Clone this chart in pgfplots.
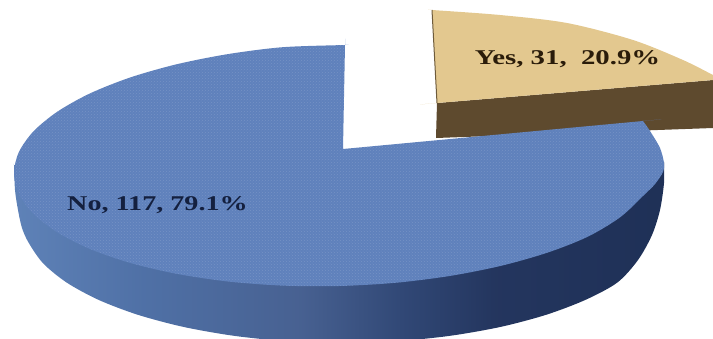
\documentclass[border=0pt]{standalone}
\usepackage{pgfplots}
\usepackage{graphicx}
\usepackage{fontspec}
\usetikzlibrary{patterns}
\setmainfont{Liberation Serif}
\pgfplotsset{compat=1.18}
\definecolor{blueTop}{HTML}{5F81BC}
\definecolor{tanTop}{HTML}{E3C88F}
\definecolor{tanSide}{HTML}{5E4A2E}
\definecolor{tanEdge}{HTML}{6E5B3B}
\definecolor{labelNo}{HTML}{14203F}
\definecolor{labelYes}{HTML}{2A1C0A}
\pgfdeclarehorizontalshading{bluerim}{100bp}{
  rgb(0bp)=(0.37,0.51,0.72);
  rgb(25bp)=(0.37,0.51,0.72);
  rgb(35bp)=(0.31,0.44,0.65);
  rgb(47bp)=(0.28,0.38,0.57);
  rgb(55bp)=(0.19,0.28,0.46);
  rgb(62bp)=(0.14,0.21,0.37);
  rgb(75bp)=(0.12,0.19,0.34);
  rgb(100bp)=(0.12,0.19,0.34)}
\begin{document}
\begin{tikzpicture}
\path[use as bounding box] (0,0) rectangle (713pt,338pt);
\begin{axis}[
  anchor=south west, at={(0,0)},
  scale only axis, width=713pt, height=338pt,
  xmin=0, xmax=713, ymin=0, ymax=338, y dir=reverse,
  hide axis, clip=true]
% Tan slice: rim, then top face
\addplot[draw=none, fill=tanSide, forget plot] coordinates {
  (437,103) (713,80) (713,128) (436,138)} --cycle;
\addplot[draw=none, fill=tanTop, smooth, tension=0.5, forget plot] coordinates {
  (432,10) (432,10) (432,10) (500,15) (567,23) (633,40) (683,60) (713,75) (713,75) (713,75)
  (713,80) (713,80) (713,80) (437,103) (437,103) (437,103)} --cycle;
\addplot[tanEdge, line width=1pt, forget plot] coordinates {(432,10) (437,103)};
% Blue slice: rim, then top face with a light grain over it
\addplot[draw=none, shading=bluerim, smooth, tension=0.5, forget plot] coordinates {
  (14,165) (14,165) (14,165) (15,190) (18,210) (22,228) (28.8,243) (43.2,263.4) (66.6,282.5)
  (98.4,299.8) (137.6,314.7) (183,326.8) (233.2,335.7) (286.8,341.2) (342,343)
  (397.2,341.2) (450.8,335.7) (501,326.8) (546.4,314.7) (585.6,299.8) (617.4,282.5)
  (638,260) (652,235) (660,210) (664,183) (664,163) (664,163) (664,163)} --cycle;
\addplot[draw=none, fill=blueTop, smooth, tension=0.5, forget plot] coordinates {
  (343,149) (343,149) (343,149) (345,45) (345,45) (345,45)
  (282.6,47.2) (227.9,54.1) (176.5,64.3) (130.1,77.5) (90,93.4) (57.6,111.5)
  (33.6,131.2) (18.9,152) (14,173) (18.9,194) (33.6,214) (57.6,232.5) (90,249)
  (130.1,262.9) (176.5,273.8) (227.9,281.5) (282.6,285.6) (339,286) (395.4,282.8)
  (450.2,275.9) (501.5,265.7) (547.9,252.5) (588,236.6) (620.5,217) (644,195)
  (655,184) (663,172) (664,163) (660,148) (650,131) (643,121) (643,121) (643,121)
  (343,149) (343,149) (343,149)} --cycle;
\addplot[draw=none, pattern=crosshatch dots, pattern color=white, fill opacity=0.14, smooth, tension=0.5, forget plot] coordinates {
  (343,149) (343,149) (343,149) (345,45) (345,45) (345,45)
  (282.6,47.2) (227.9,54.1) (176.5,64.3) (130.1,77.5) (90,93.4) (57.6,111.5)
  (33.6,131.2) (18.9,152) (14,173) (18.9,194) (33.6,214) (57.6,232.5) (90,249)
  (130.1,262.9) (176.5,273.8) (227.9,281.5) (282.6,285.6) (339,286) (395.4,282.8)
  (450.2,275.9) (501.5,265.7) (547.9,252.5) (588,236.6) (620.5,217) (644,195)
  (655,184) (663,172) (664,163) (660,148) (650,131) (643,121) (643,121) (643,121)
  (343,149) (343,149) (343,149)} --cycle;
% Slice labels
\node[text=labelYes, anchor=center] at (axis cs:567.5,59)
  {\scalebox{1.37}[1]{\fontsize{21}{21}\selectfont\bfseries Yes, 31,\ \ 20.9\%}};
\node[text=labelNo, anchor=center] at (axis cs:157.5,205)
  {\scalebox{1.34}[1]{\fontsize{21}{21}\selectfont\bfseries No, 117, 79.1\%}};
\end{axis}
\end{tikzpicture}
\end{document}
